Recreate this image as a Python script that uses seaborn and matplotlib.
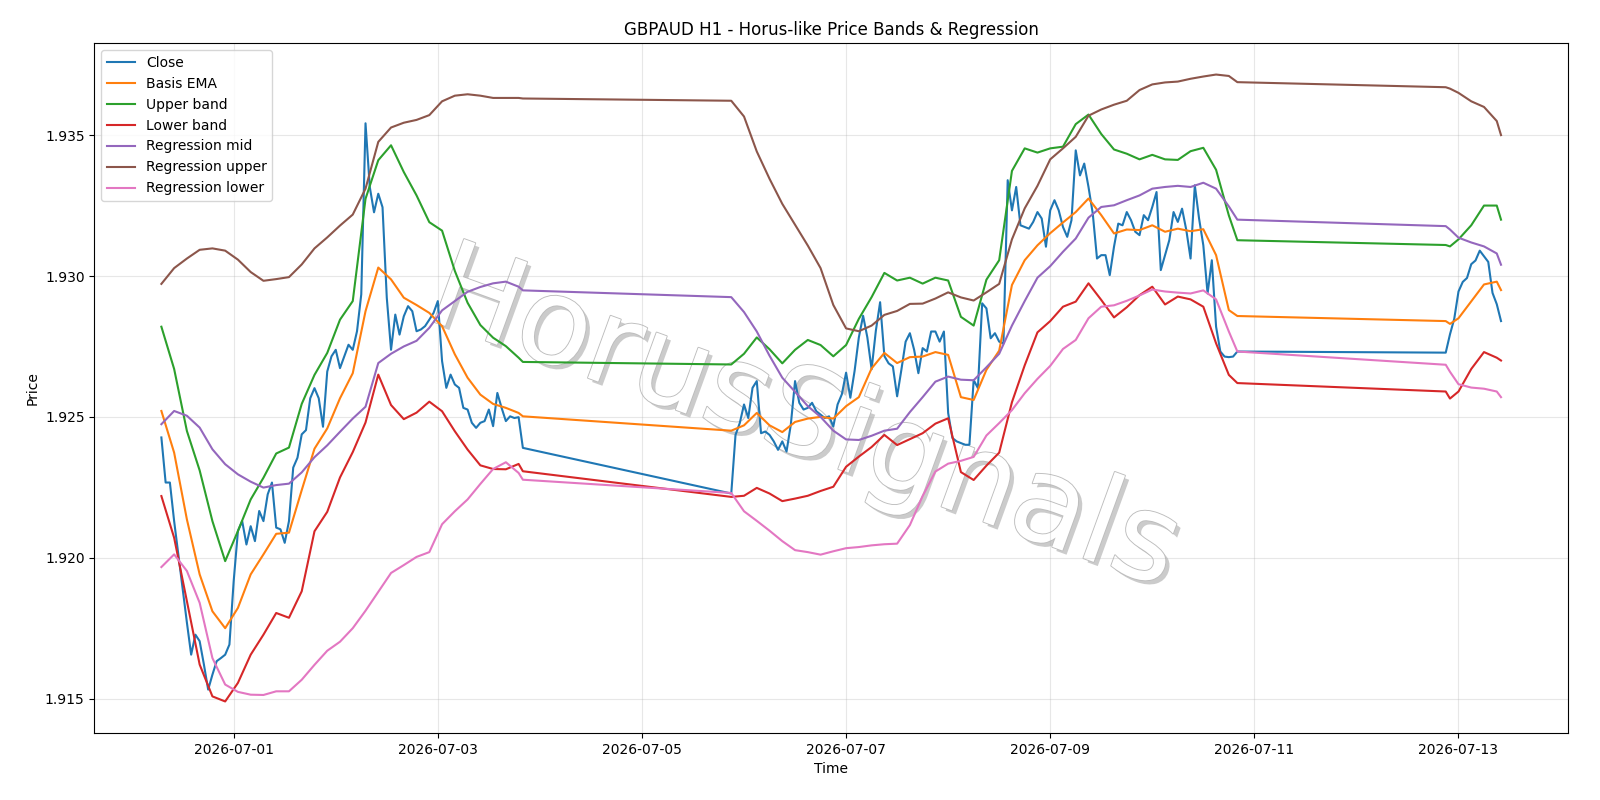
import matplotlib
matplotlib.use("Agg")
import matplotlib.pyplot as plt
import matplotlib.dates as mdates
import matplotlib.patheffects as pe
import pandas as pd
import seaborn as sns

# trading segments (hourly bars), weekends are bridged by the line
seg_starts = ["2026-06-30 07:00", "2026-07-05 21:00", "2026-07-12 21:00"]

close_a = [1.92427, 1.92267, 1.92267, 1.92130, 1.92010, 1.91890, 1.91770, 1.91656, 1.91727, 1.91704,
           1.91621, 1.91532, 1.91585, 1.91633, 1.91644, 1.91656, 1.91692, 1.91917, 1.92095, 1.92130,
           1.92047, 1.92112, 1.92059, 1.92166, 1.92130, 1.92225, 1.92267, 1.92107, 1.92101, 1.92053,
           1.92130, 1.92320, 1.92355, 1.92438, 1.92453, 1.92566, 1.92602, 1.92566, 1.92465, 1.92661,
           1.92715, 1.92738, 1.92673, 1.92715, 1.92756, 1.92738, 1.92804, 1.92935, 1.93542, 1.93316,
           1.93226, 1.93292, 1.93244, 1.92923, 1.92738, 1.92863, 1.92792, 1.92857, 1.92893, 1.92875,
           1.92804, 1.92810, 1.92822, 1.92845, 1.92869, 1.92911, 1.92698, 1.92603, 1.92650, 1.92615,
           1.92603, 1.92532, 1.92526, 1.92479, 1.92461, 1.92479, 1.92485, 1.92526, 1.92467, 1.92585,
           1.92532, 1.92485, 1.92502, 1.92496, 1.92499, 1.92390]
close_b = [1.92228, 1.92436, 1.92478, 1.92544, 1.92496, 1.92603, 1.92627, 1.92442, 1.92448, 1.92436,
           1.92413, 1.92383, 1.92413, 1.92377, 1.92472, 1.92627, 1.92550, 1.92526, 1.92532, 1.92550,
           1.92520, 1.92508, 1.92496, 1.92502, 1.92466, 1.92544, 1.92580, 1.92657, 1.92568, 1.92663,
           1.92782, 1.92859, 1.92782, 1.92669, 1.92806, 1.92907, 1.92716, 1.92690, 1.92679, 1.92573,
           1.92667, 1.92767, 1.92797, 1.92738, 1.92655, 1.92744, 1.92732, 1.92803, 1.92803, 1.92767,
           1.92803, 1.92514, 1.92425, 1.92413, 1.92407, 1.92401, 1.92401, 1.92631, 1.92602, 1.92903,
           1.92885, 1.92779, 1.92797, 1.92767, 1.92760, 1.93340, 1.93233, 1.93316, 1.93180, 1.93174,
           1.93168, 1.93192, 1.93227, 1.93204, 1.93104, 1.93233, 1.93269, 1.93233, 1.93174, 1.93139,
           1.93198, 1.93446, 1.93357, 1.93399, 1.93316, 1.93222, 1.93062, 1.93074, 1.93074, 1.93003,
           1.93104, 1.93186, 1.93180, 1.93227, 1.93198, 1.93157, 1.93145, 1.93216, 1.93198, 1.93245,
           1.93298, 1.93021, 1.93074, 1.93127, 1.93227, 1.93192, 1.93239, 1.93163, 1.93062, 1.93322,
           1.93204, 1.93109, 1.92938, 1.93056, 1.92820, 1.92732, 1.92714, 1.92712, 1.92714, 1.92732]
close_c = [1.92728, 1.92793, 1.92848, 1.92945, 1.92979, 1.92993, 1.93042, 1.93055, 1.93090, 1.93070,
           1.93050, 1.92940, 1.92900, 1.92840]

# band / regression values read every 3 hours (plus last bar of each segment)
band_hours_a = list(range(0, 85, 3)) + [85]
band_hours_b = list(range(0, 118, 3)) + [119]
band_hours_c = [0, 1, 3, 6, 9, 12, 13]

basis_ema = [1.92521, 1.92373, 1.92136, 1.91941, 1.91810, 1.91750, 1.91822, 1.91941, 1.92012, 1.92085,
             1.92089, 1.92240, 1.92387, 1.92459, 1.92566, 1.92655, 1.92875, 1.93030, 1.92988, 1.92923,
             1.92897, 1.92869, 1.92822, 1.92722, 1.92639, 1.92579, 1.92546, 1.92532, 1.92514, 1.92502,
             1.92451, 1.92470, 1.92514, 1.92470, 1.92446, 1.92482, 1.92494, 1.92500, 1.92494, 1.92538,
             1.92570, 1.92672, 1.92727, 1.92691, 1.92712, 1.92714, 1.92730, 1.92720, 1.92570, 1.92560,
             1.92667, 1.92735, 1.92968, 1.93056, 1.93109, 1.93152, 1.93190, 1.93227, 1.93275, 1.93216,
             1.93151, 1.93165, 1.93163, 1.93180, 1.93157, 1.93168, 1.93159, 1.93166, 1.93074, 1.92879,
             1.92858,
             1.92840, 1.92830, 1.92850, 1.92910, 1.92970, 1.92980, 1.92950]
upper_band = [1.92820, 1.92670, 1.92450, 1.92310, 1.92130, 1.91988, 1.92095, 1.92207, 1.92284, 1.92370,
              1.92391, 1.92546, 1.92649, 1.92727, 1.92845, 1.92911, 1.93274, 1.93411, 1.93464, 1.93369,
              1.93286, 1.93191, 1.93161, 1.93018, 1.92905, 1.92826, 1.92781, 1.92751, 1.92710, 1.92695,
              1.92686, 1.92724, 1.92782, 1.92740, 1.92690, 1.92738, 1.92773, 1.92755, 1.92715, 1.92755,
              1.92848, 1.92925, 1.93011, 1.92984, 1.92994, 1.92973, 1.92994, 1.92984, 1.92855, 1.92824,
              1.92987, 1.93056, 1.93373, 1.93453, 1.93438, 1.93453, 1.93459, 1.93539, 1.93573, 1.93504,
              1.93449, 1.93434, 1.93414, 1.93430, 1.93414, 1.93412, 1.93443, 1.93455, 1.93377, 1.93215,
              1.93127,
              1.93110, 1.93105, 1.93130, 1.93180, 1.93250, 1.93250, 1.93200]
lower_band = [1.92219, 1.92071, 1.91846, 1.91621, 1.91508, 1.91490, 1.91556, 1.91656, 1.91727, 1.91804,
              1.91787, 1.91881, 1.92094, 1.92163, 1.92285, 1.92375, 1.92480, 1.92650, 1.92542, 1.92492,
              1.92515, 1.92554, 1.92520, 1.92449, 1.92384, 1.92328, 1.92315, 1.92314, 1.92333, 1.92307,
              1.92216, 1.92220, 1.92248, 1.92228, 1.92201, 1.92210, 1.92220, 1.92237, 1.92252, 1.92323,
              1.92359, 1.92393, 1.92436, 1.92400, 1.92421, 1.92442, 1.92476, 1.92495, 1.92304, 1.92276,
              1.92327, 1.92373, 1.92552, 1.92683, 1.92800, 1.92840, 1.92891, 1.92909, 1.92974, 1.92915,
              1.92853, 1.92889, 1.92932, 1.92962, 1.92899, 1.92927, 1.92917, 1.92891, 1.92761, 1.92649,
              1.92620,
              1.92590, 1.92565, 1.92590, 1.92670, 1.92730, 1.92710, 1.92700]
reg_mid = [1.92474, 1.92521, 1.92504, 1.92462, 1.92385, 1.92332, 1.92296, 1.92270, 1.92249, 1.92258,
           1.92263, 1.92303, 1.92357, 1.92399, 1.92447, 1.92494, 1.92536, 1.92691, 1.92724, 1.92750,
           1.92770, 1.92816, 1.92878, 1.92911, 1.92944, 1.92961, 1.92974, 1.92980, 1.92962, 1.92949,
           1.92925, 1.92872, 1.92803, 1.92717, 1.92639, 1.92589, 1.92538, 1.92500, 1.92451, 1.92420,
           1.92418, 1.92433, 1.92451, 1.92458, 1.92517, 1.92570, 1.92625, 1.92643, 1.92632, 1.92630,
           1.92676, 1.92724, 1.92824, 1.92911, 1.92994, 1.93035, 1.93086, 1.93133, 1.93207, 1.93245,
           1.93251, 1.93269, 1.93286, 1.93310, 1.93316, 1.93320, 1.93316, 1.93331, 1.93310, 1.93247,
           1.93200,
           1.93177, 1.93165, 1.93136, 1.93119, 1.93105, 1.93080, 1.93040]
reg_upper = [1.92972, 1.93028, 1.93062, 1.93093, 1.93098, 1.93090, 1.93058, 1.93014, 1.92983, 1.92989,
             1.92996, 1.93041, 1.93098, 1.93137, 1.93179, 1.93218, 1.93310, 1.93476, 1.93527, 1.93544,
             1.93554, 1.93571, 1.93620, 1.93640, 1.93645, 1.93640, 1.93632, 1.93632, 1.93632, 1.93630,
             1.93622, 1.93566, 1.93442, 1.93345, 1.93256, 1.93182, 1.93108, 1.93028, 1.92897, 1.92814,
             1.92804, 1.92824, 1.92862, 1.92876, 1.92901, 1.92902, 1.92920, 1.92942, 1.92924, 1.92913,
             1.92942, 1.92972, 1.93130, 1.93240, 1.93320, 1.93414, 1.93453, 1.93494, 1.93569, 1.93591,
             1.93608, 1.93622, 1.93660, 1.93680, 1.93687, 1.93690, 1.93700, 1.93708, 1.93715, 1.93710,
             1.93688,
             1.93670, 1.93665, 1.93650, 1.93620, 1.93600, 1.93550, 1.93500]
reg_lower = [1.91967, 1.92012, 1.91953, 1.91840, 1.91644, 1.91550, 1.91524, 1.91514, 1.91513, 1.91526,
             1.91526, 1.91567, 1.91620, 1.91670, 1.91702, 1.91750, 1.91812, 1.91879, 1.91946, 1.91974,
             1.92003, 1.92020, 1.92119, 1.92165, 1.92207, 1.92262, 1.92315, 1.92339, 1.92301, 1.92277,
             1.92230, 1.92165, 1.92131, 1.92096, 1.92059, 1.92027, 1.92020, 1.92011, 1.92023, 1.92034,
             1.92038, 1.92044, 1.92048, 1.92050, 1.92116, 1.92219, 1.92306, 1.92334, 1.92344, 1.92358,
             1.92434, 1.92478, 1.92524, 1.92584, 1.92635, 1.92681, 1.92741, 1.92773, 1.92850, 1.92891,
             1.92896, 1.92912, 1.92931, 1.92952, 1.92945, 1.92941, 1.92938, 1.92949, 1.92917, 1.92803,
             1.92732,
             1.92685, 1.92660, 1.92616, 1.92604, 1.92600, 1.92590, 1.92570]


def seg_times(hour_lists):
    out = []
    for start, hours in zip(seg_starts, hour_lists):
        out.append(pd.Timestamp(start) + pd.to_timedelta(list(hours), unit="h"))
    return out[0].append(out[1:])


close_times = seg_times([range(len(close_a)), range(len(close_b)), range(len(close_c))])
band_times = seg_times([band_hours_a, band_hours_b, band_hours_c])
close = close_a + close_b + close_c

fig, ax = plt.subplots(figsize=(16, 8), dpi=100)

sns.lineplot(x=close_times, y=close, ax=ax, color="C0", label="Close", linewidth=1.5)
for name, vals, col in [("Basis EMA", basis_ema, "C1"), ("Upper band", upper_band, "C2"),
                        ("Lower band", lower_band, "C3"), ("Regression mid", reg_mid, "C4"),
                        ("Regression upper", reg_upper, "C5"), ("Regression lower", reg_lower, "C6")]:
    sns.lineplot(x=band_times, y=vals, ax=ax, color=col, label=name, linewidth=1.5)

# watermark
ax.text(0.482, 0.452, "HorusSignals", transform=ax.transAxes, fontsize=87, color="white",
        rotation=-20, ha="center", va="center", zorder=1,
        path_effects=[pe.SimplePatchShadow(offset=(3, -3), shadow_rgbFace="#c6c6c6", alpha=0.9),
                      pe.Stroke(linewidth=1.3, foreground="#bdbdbd"), pe.Normal()])

ax.xaxis.set_major_locator(mdates.DayLocator(bymonthday=[1, 3, 5, 7, 9, 11, 13]))
ax.xaxis.set_major_formatter(mdates.DateFormatter("%Y-%m-%d"))
ax.grid(True, alpha=0.3)
ax.set_title("GBPAUD H1 - Horus-like Price Bands & Regression", fontsize=12)
ax.set_xlabel("Time")
ax.set_ylabel("Price")
ax.legend(loc="upper left")

fig.subplots_adjust(left=0.059, right=0.980, top=0.946, bottom=0.084)
fig.savefig("out.png", dpi=100)
